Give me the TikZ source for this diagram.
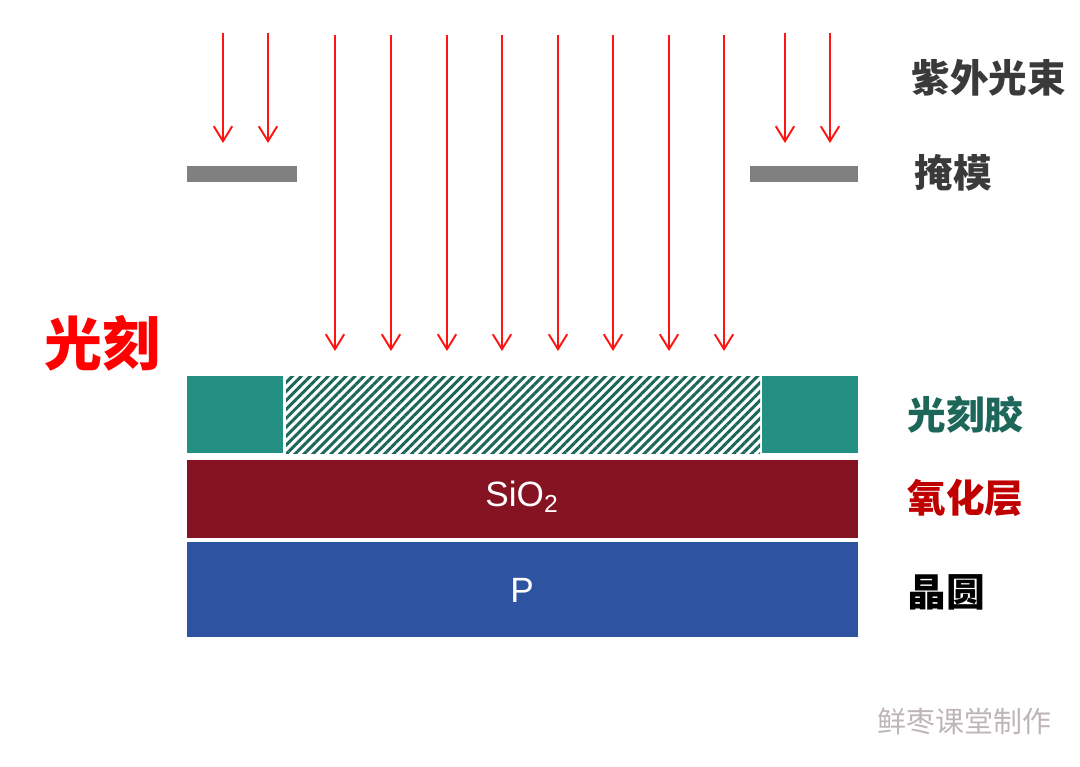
\documentclass[tikz,border=0pt]{standalone}
\usepackage{fontspec}
\setsansfont{Liberation Sans}
\newfontfamily\cjk{Noto Sans CJK SC}
\usetikzlibrary{arrows.meta,patterns.meta}
\definecolor{beamred}{RGB}{255,20,20}
\definecolor{maskgray}{RGB}{128,128,128}
\definecolor{resist}{RGB}{36,143,131}
\definecolor{resistdark}{RGB}{28,102,90}
\definecolor{oxide}{RGB}{133,19,34}
\definecolor{wafer}{RGB}{46,84,161}
\definecolor{labelgray}{RGB}{58,58,58}
\definecolor{labelred}{RGB}{192,0,0}
\definecolor{markgray}{RGB}{190,182,182}

\begin{document}
\begin{tikzpicture}[x=0.02cm,y=-0.02cm,
           beam/.style={draw=beamred,line width=1.1pt,-{Straight Barb[length=8.5pt,width=10.5pt,line width=1.1pt]}},
           mask/.style={fill=maskgray},
           label/.style={anchor=west,inner sep=0pt,font=\cjk\bfseries\fontsize{22}{22}\selectfont},
           layertext/.style={text=white,font=\sffamily\fontsize{20}{20}\selectfont},
        ]
        \useasboundingbox (0,0) rectangle (1080,767);

        % light beams
        \foreach \px [count=\i] in {223,268,785,830}
          \draw[beam] (\px,33) coordinate (short\i) -- (\px,143) coordinate (shortend\i);
        \foreach \px [count=\i] in {335,391,447,502,558,613,669,724}
          \draw[beam] (\px,35) coordinate (long\i) -- (\px,351) coordinate (longend\i);

        % mask
        \fill[mask] (187,166) rectangle (297,182);
        \fill[mask] (750,166) rectangle (858,182);

        % photoresist
        \fill[resist] (187,376) rectangle (283,453);
        \fill[resist] (762,376) rectangle (858,453);
        \fill[pattern={Lines[angle=45,distance=3.6pt,line width=1.7pt]},pattern color=resistdark]
             (286,376) rectangle (760,453);

        % oxide and wafer
        \fill[oxide] (187,460) rectangle (858,538);
        \node[layertext] (sio2) at (522,497) {SiO\textsubscript{2}};
        \fill[wafer] (187,542) rectangle (858,637);
        \node[layertext] (p) at (522,590) {P};

        % labels
        \node[label,text=labelgray] (uv) at (911,78) {紫外光束};
        \node[label,text=labelgray] (masklabel) at (914,173) {掩模};
        \node[label,text=resistdark] (resistlabel) at (907,415) {光刻胶};
        \node[label,text=labelred] (oxidelabel) at (907,498) {氧化层};
        \node[label,text=black] (waferlabel) at (907,592) {晶圆};
        \node[label,text=red,font=\cjk\bfseries\fontsize{33}{33}\selectfont] (title) at (44,343) {光刻};
        \node[anchor=west,inner sep=0pt,text=markgray,font=\cjk\fontsize{16.5}{16.5}\selectfont] (mark) at (877,722) {鲜枣课堂制作};
     \end{tikzpicture}
\end{document}
